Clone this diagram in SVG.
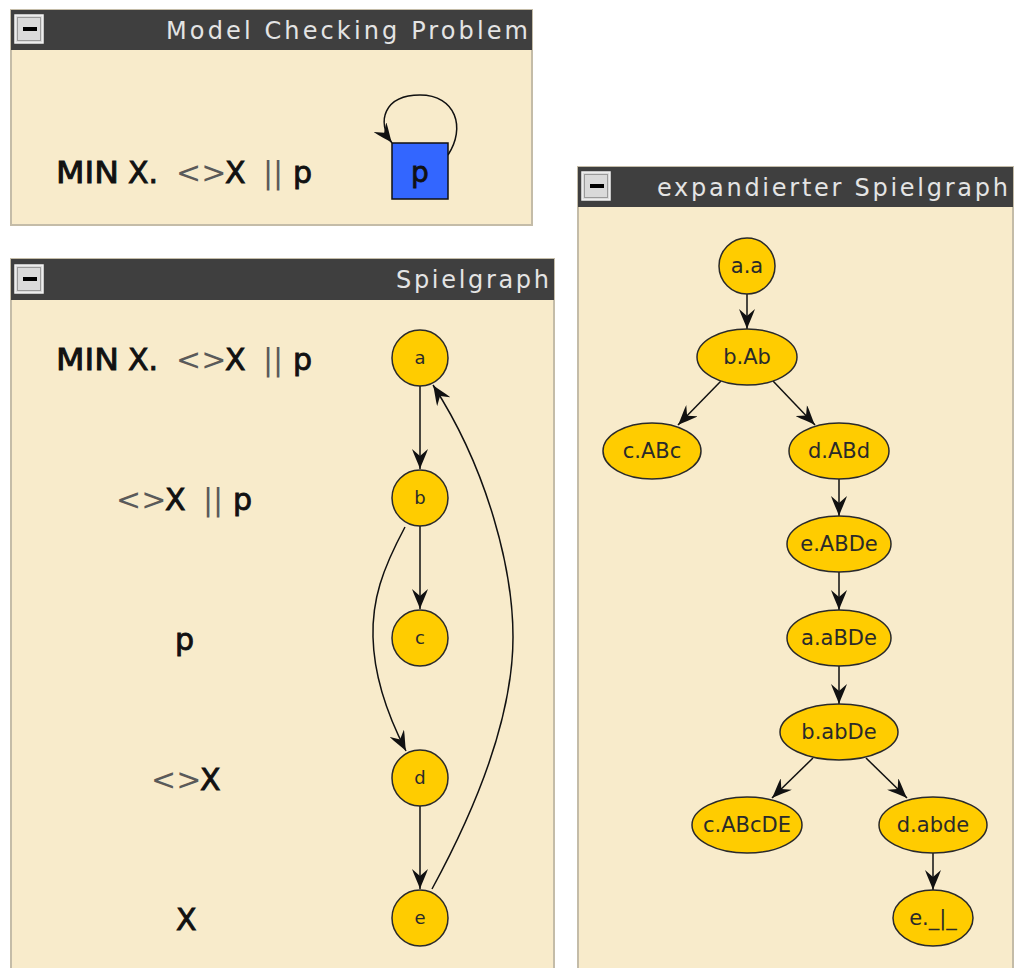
<svg xmlns="http://www.w3.org/2000/svg" width="1019" height="968" viewBox="0 0 1019 968">
  <style>
    .panel { fill: #f8ebcb; stroke: #c4bca8; stroke-width: 2; }
    .bar { fill: #3f3f3f; }
    .title { font-family: "DejaVu Sans", sans-serif; font-size: 24px; fill: #e4e4e4; }
    .btn { fill: #dadada; stroke: #f4f4f4; stroke-width: 1.5; }
    .btnin { fill: none; stroke: #9a9a9a; stroke-width: 1; }
    .f { font-family: "DejaVu Sans", sans-serif; font-size: 30px; fill: #111; }
    .m { stroke: #111; stroke-width: 0.9; }
    .thin { fill: #5a5a5a; }
    .node { fill: #ffcc00; stroke: #2a2a2a; stroke-width: 1.5; }
    .lbl { font-family: "DejaVu Sans", sans-serif; font-size: 18px; fill: #2a2a2a; text-anchor: middle; }
    .lbl2 { font-family: "DejaVu Sans", sans-serif; font-size: 21px; fill: #2a2a2a; text-anchor: middle; }
    .edge { fill: none; stroke: #111; stroke-width: 1.5; marker-end: url(#arr); }
  </style>
  <defs>
    <marker id="arr" viewBox="0 0 20 16" refX="20" refY="8" markerWidth="20" markerHeight="16" markerUnits="userSpaceOnUse" orient="auto">
      <path d="M20,8 C14,6 6,2 0,0 L7,8 L0,16 C6,14 14,10 20,8 z" fill="#111"/>
    </marker>
  </defs>

  <rect width="1019" height="968" fill="#ffffff"/>

  <!-- window: Model Checking Problem -->
  <g id="panel-model">
    <rect class="panel" x="11" y="10" width="521" height="215"/>
    <rect class="bar" x="11" y="10" width="521" height="40"/>
    <rect class="btn" x="15" y="15" width="28" height="28"/>
    <rect class="btnin" x="17.5" y="17.5" width="23" height="23"/>
    <rect x="23" y="27" width="14" height="4" fill="#000"/>
    <text class="title" x="166" y="39" textLength="362" lengthAdjust="spacing">Model Checking Problem</text>
    <text class="f" y="183"><tspan class="m" x="56" textLength="63" lengthAdjust="spacingAndGlyphs">MIN</tspan><tspan class="m" x="128">X.</tspan><tspan class="thin" x="176">&lt;&gt;</tspan><tspan class="m" x="225">X</tspan><tspan class="thin" x="263">||</tspan><tspan class="m" x="293">p</tspan></text>
  </g>

  <!-- window: Spielgraph -->
  <g id="panel-spielgraph">
    <rect class="panel" x="11" y="259" width="543" height="720"/>
    <rect class="bar" x="11" y="259" width="543" height="41"/>
    <rect class="btn" x="15" y="265" width="28" height="28"/>
    <rect class="btnin" x="17.5" y="267.5" width="23" height="23"/>
    <rect x="23" y="277" width="14" height="4" fill="#000"/>
    <text class="title" x="396" y="288" textLength="153" lengthAdjust="spacing">Spielgraph</text>
    <text class="f" y="370"><tspan class="m" x="56" textLength="63" lengthAdjust="spacingAndGlyphs">MIN</tspan><tspan class="m" x="128">X.</tspan><tspan class="thin" x="176">&lt;&gt;</tspan><tspan class="m" x="225">X</tspan><tspan class="thin" x="263">||</tspan><tspan class="m" x="293">p</tspan></text>
    <text class="f" y="510"><tspan class="thin" x="116">&lt;&gt;</tspan><tspan class="m" x="165">X</tspan><tspan class="thin" x="203">||</tspan><tspan class="m" x="233">p</tspan></text>
    <text class="f m" x="175" y="650">p</text>
    <text class="f" y="790"><tspan class="thin" x="151">&lt;&gt;</tspan><tspan class="m" x="200">X</tspan></text>
    <text class="f m" x="176" y="930">X</text>
  </g>

  <!-- window: expandierter Spielgraph -->
  <g id="panel-expanded">
    <rect class="panel" x="578" y="167" width="435" height="812"/>
    <rect class="bar" x="578" y="167" width="435" height="40"/>
    <rect class="btn" x="582" y="172" width="28" height="28"/>
    <rect class="btnin" x="584.5" y="174.5" width="23" height="23"/>
    <rect x="590" y="184" width="14" height="4" fill="#000"/>
    <text class="title" x="657" y="196" textLength="351" lengthAdjust="spacing">expandierter Spielgraph</text>
  </g>

  <!-- connectors -->
  <g id="connectors">
    <path class="edge" d="M448,155 C466,128 456,95 420,95 C384,95 376,122 392,143"/>
    <path class="edge" d="M420,386 L420,469"/>
    <path class="edge" d="M420,526 L420,609"/>
    <path class="edge" d="M420,806 L420,889"/>
    <path class="edge" d="M405,527 C382,570 372,600 373,637 C374,680 390,720 406,751"/>
    <path class="edge" d="M432,889 C475,810 513,720 513,637 C513,570 488,470 433,385"/>

    <path class="edge" d="M747,294 L747,329"/>
    <path class="edge" d="M721,381 L678,425"/>
    <path class="edge" d="M773,381 L815,425"/>
    <path class="edge" d="M839,479 L839,516"/>
    <path class="edge" d="M839,572 L839,610"/>
    <path class="edge" d="M839,666 L839,704"/>
    <path class="edge" d="M813,758 L772,798"/>
    <path class="edge" d="M866,758 L907,798"/>
    <path class="edge" d="M933,853 L933,890"/>
  </g>

  <!-- nodes: Model Checking Problem -->
  <g id="node-p">
    <rect x="392" y="143" width="56" height="56" fill="#3366ff" stroke="#111" stroke-width="1.5"/>
    <text x="420" y="182" font-family="DejaVu Sans, sans-serif" font-size="28" fill="#111" stroke="#111" stroke-width="0.8" text-anchor="middle">p</text>
  </g>

  <!-- nodes: Spielgraph -->
  <g id="node-a"><circle class="node" cx="420" cy="358" r="28"/><text class="lbl" x="420" y="364">a</text></g>
  <g id="node-b"><circle class="node" cx="420" cy="498" r="28"/><text class="lbl" x="420" y="504">b</text></g>
  <g id="node-c"><circle class="node" cx="420" cy="638" r="28"/><text class="lbl" x="420" y="644">c</text></g>
  <g id="node-d"><circle class="node" cx="420" cy="778" r="28"/><text class="lbl" x="420" y="784">d</text></g>
  <g id="node-e"><circle class="node" cx="420" cy="918" r="28"/><text class="lbl" x="420" y="924">e</text></g>

  <!-- nodes: expandierter Spielgraph -->
  <g id="node-a-a"><circle class="node" cx="747" cy="266" r="28"/><text class="lbl2" x="747" y="273">a.a</text></g>
  <g id="node-b-Ab"><ellipse class="node" cx="747" cy="357" rx="50" ry="28"/><text class="lbl2" x="747" y="364">b.Ab</text></g>
  <g id="node-c-ABc"><ellipse class="node" cx="652" cy="451" rx="49" ry="28"/><text class="lbl2" x="652" y="458">c.ABc</text></g>
  <g id="node-d-ABd"><ellipse class="node" cx="839" cy="451" rx="50" ry="28"/><text class="lbl2" x="839" y="458">d.ABd</text></g>
  <g id="node-e-ABDe"><ellipse class="node" cx="839" cy="544" rx="52" ry="28"/><text class="lbl2" x="839" y="551">e.ABDe</text></g>
  <g id="node-a-aBDe"><ellipse class="node" cx="839" cy="638" rx="52" ry="28"/><text class="lbl2" x="839" y="645">a.aBDe</text></g>
  <g id="node-b-abDe"><ellipse class="node" cx="839" cy="732" rx="59" ry="28"/><text class="lbl2" x="839" y="739">b.abDe</text></g>
  <g id="node-c-ABcDE"><ellipse class="node" cx="747" cy="825" rx="55" ry="28"/><text class="lbl2" x="747" y="832">c.ABcDE</text></g>
  <g id="node-d-abde"><ellipse class="node" cx="933" cy="825" rx="54" ry="28"/><text class="lbl2" x="933" y="832">d.abde</text></g>
  <g id="node-e-bot"><ellipse class="node" cx="933" cy="918" rx="40" ry="28"/><text class="lbl2" x="933" y="925">e._|_</text></g>
</svg>
